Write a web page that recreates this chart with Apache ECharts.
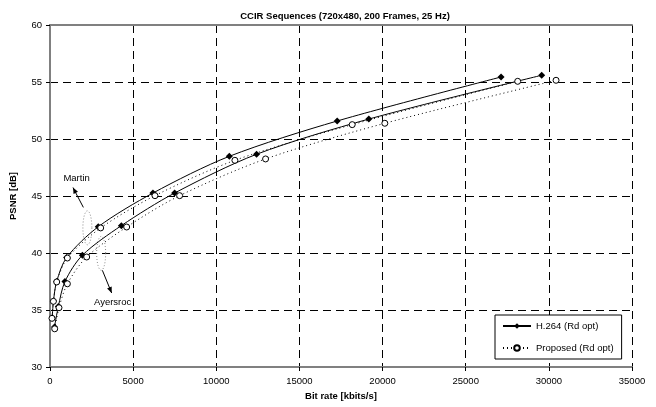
<!DOCTYPE html>
<html>
<head>
<meta charset="utf-8">
<script src="https://cdn.jsdelivr.net/npm/echarts@6/dist/echarts.min.js"></script>
<style>
  html, body { margin: 0; padding: 0; background: #fff; }
  #chart { width: 656px; height: 407px; }
</style>
</head>
<body>
<div id="chart"></div>
<script>
// bit rate [kbits/s], PSNR [dB]
const martinH264 = [[130, 34.3], [210, 35.8], [400, 37.5], [1000, 39.6], [2900, 42.3], [6192, 45.26], [10782, 48.48], [17272, 51.58], [27126, 55.44]];
const martinProposed = [[120, 34.27], [204, 35.76], [403, 37.46], [1045, 39.56], [3047, 42.2], [6312, 45.03], [11119, 48.13], [18174, 51.26], [28126, 55.06]];
const ayersH264 = [[270, 33.5], [500, 35.3], [900, 37.5], [1947, 39.8], [4291, 42.4], [7495, 45.26], [12423, 48.66], [19173, 51.75], [29568, 55.59]];
const ayersProposed = [[282, 33.35], [541, 35.2], [1045, 37.3], [2206, 39.65], [4610, 42.28], [7796, 45.03], [12964, 48.25], [20135, 51.38], [30433, 55.15]];

const legendNames = ['H.264 (Rd opt)', 'Proposed (Rd opt)'];

// annotation anchors in data units
const notes = [
  { text: 'Martin', label: [1600, 46.55], ellipse: [2248, 42.21], from: [2007, 44.0], to: [1382, 45.74] },
  { text: 'Ayersroc', label: [3768, 35.68], ellipse: [3077, 39.97], from: [3149, 38.48], to: [3708, 36.49] }
];

const font = 'Arial, "Liberation Sans", sans-serif';
const chart = echarts.init(document.getElementById('chart'));

const h264 = (data) => ({
  name: legendNames[0], type: 'line', data: data, smooth: 0.3,
  symbol: 'diamond', symbolSize: 7,
  itemStyle: { color: '#000' },
  lineStyle: { color: '#000', width: 1 },
  z: 3
});
const proposed = (data) => ({
  name: legendNames[1], type: 'line', data: data, smooth: 0.3,
  symbol: 'circle', symbolSize: 6,
  itemStyle: { color: '#fff', borderColor: '#000', borderWidth: 1 },
  lineStyle: { color: '#000', width: 1, type: [1, 3] },
  z: 4
});

chart.setOption({
  animation: false,
  textStyle: { fontFamily: font },
  title: {
    text: 'CCIR Sequences (720x480, 200 Frames, 25 Hz)',
    left: 340, top: 6, textAlign: 'center',
    textStyle: { fontSize: 9.5, fontWeight: 'bold', color: '#000', fontFamily: font }
  },
  grid: { left: 49, right: 24, top: 25, bottom: 40 },
  legend: {
    data: legendNames, orient: 'vertical', left: 495, top: 315,
    backgroundColor: '#fff', borderColor: '#000', borderWidth: 1,
    padding: [6, 8, 6, 7], itemGap: 12, itemWidth: 28, itemHeight: 7,
    textStyle: { fontSize: 9.5, color: '#000', fontFamily: font }
  },
  xAxis: [{
    type: 'value', min: 0, max: 35000, interval: 5000,
    name: 'Bit rate [kbits/s]', nameLocation: 'middle', nameGap: 22,
    nameTextStyle: { fontSize: 9.5, fontWeight: 'bold', color: '#000' },
    axisLine: { lineStyle: { color: '#808080', width: 2 } },
    axisTick: { show: true, length: 4, lineStyle: { color: '#000' } },
    axisLabel: { color: '#000', fontSize: 9.5, margin: 9, formatter: (v) => String(v) },
    splitLine: { show: true, lineStyle: { color: '#000', width: 1, type: [8, 5] } }
  }, {
    type: 'value', min: 0, max: 35000, interval: 5000, position: 'top',
    axisLine: { lineStyle: { color: '#808080', width: 2 } },
    axisTick: { show: false }, axisLabel: { show: false }, splitLine: { show: false }
  }],
  yAxis: [{
    type: 'value', min: 30, max: 60, interval: 5,
    name: 'PSNR [dB]', nameLocation: 'middle', nameGap: 32,
    nameTextStyle: { fontSize: 9.5, fontWeight: 'bold', color: '#000' },
    axisLine: { show: true, lineStyle: { color: '#808080', width: 2 } },
    axisTick: { show: true, length: 4, lineStyle: { color: '#000' } },
    axisLabel: { color: '#000', fontSize: 9.5, margin: 8 },
    splitLine: { show: true, lineStyle: { color: '#000', width: 1, type: [8, 5] } }
  }, {
    type: 'value', min: 30, max: 60, interval: 5, position: 'right',
    axisLine: { show: true, lineStyle: { color: '#808080', width: 2, type: [8, 5] } },
    axisTick: { show: false }, axisLabel: { show: false }, splitLine: { show: false }
  }],
  series: [h264(martinH264), proposed(martinProposed), h264(ayersH264), proposed(ayersProposed)]
});

// annotations: dotted ellipses, arrows and labels
const px = (p) => chart.convertToPixel({ gridIndex: 0 }, p);
const elements = [];
notes.forEach((n) => {
  const c = px(n.ellipse);
  const pts = [];
  for (let i = 0; i <= 48; i++) {
    const a = i / 48 * Math.PI * 2;
    pts.push([c[0] + 4.5 * Math.cos(a), c[1] + 17 * Math.sin(a)]);
  }
  elements.push({ type: 'polyline', shape: { points: pts }, style: { stroke: '#888', lineWidth: 1, lineDash: [1, 2], fill: null }, z: 10 });
  const a = px(n.from), b = px(n.to);
  elements.push({ type: 'line', shape: { x1: a[0], y1: a[1], x2: b[0], y2: b[1] }, style: { stroke: '#000', lineWidth: 1 }, z: 10 });
  const ang = Math.atan2(b[1] - a[1], b[0] - a[0]);
  const L = 6, W = 2.5;
  const bx = b[0] - L * Math.cos(ang), by = b[1] - L * Math.sin(ang);
  elements.push({ type: 'polygon', shape: { points: [b, [bx - W * Math.sin(ang), by + W * Math.cos(ang)], [bx + W * Math.sin(ang), by - W * Math.cos(ang)]] }, style: { fill: '#000' }, z: 10 });
  const t = px(n.label);
  elements.push({ type: 'text', x: t[0], y: t[1], style: { text: n.text, fontSize: 9.5, fontFamily: font, fill: '#000', align: 'center', verticalAlign: 'middle' }, z: 10 });
});
chart.setOption({ graphic: { elements: elements } });
</script>
</body>
</html>
